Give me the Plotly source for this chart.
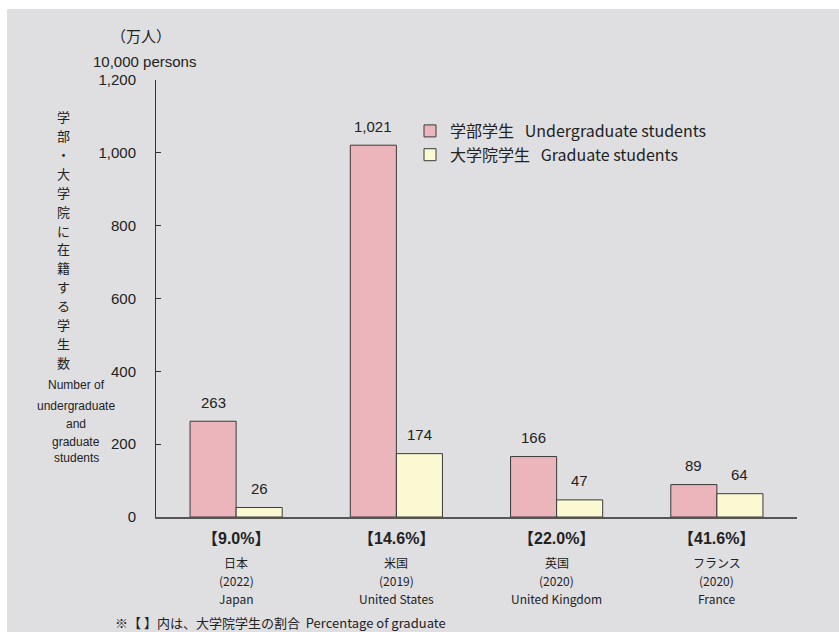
import plotly.graph_objects as go

# Students enrolled (10,000 persons)
countries_ja = ["日本", "米国", "英国", "フランス"]
countries_en = ["Japan", "United States", "United Kingdom", "France"]
years = ["(2022)", "(2019)", "(2020)", "(2020)"]
grad_share = ["【9.0%】", "【14.6%】", "【22.0%】", "【41.6%】"]
undergrad = [263, 1021, 166, 89]
graduate = [26, 174, 47, 64]
undergrad_labels = ["263", "1,021", "166", "89"]
graduate_labels = ["26", "174", "47", "64"]
y_ticks = [0, 200, 400, 600, 800, 1000, 1200]
y_tick_text = ["0", "200", "400", "600", "800", "1,000", "1,200"]

W, H = 839, 632
ML, MR, MT, MB = 156, 42, 80, 115
PW, PH = W - ML - MR, H - MT - MB
BARGAP = 0.425

FONT = "Liberation Sans, Arial, Noto Sans CJK JP, sans-serif"
JFONT = "Noto Sans CJK JP, Liberation Sans, sans-serif"
TXT = "#222222"
PINK = "#ecb5bb"
YELLOW = "#fbf9d2"
BG = "#dfdfe1"


def px(x):
    return (x - ML) / PW


def py(y):
    return (H - MB - y) / PH


def note(text, x, y, size, family=FONT, xanchor="center"):
    return dict(x=px(x), y=py(y), xref="paper", yref="paper", text=text,
                xanchor=xanchor, yanchor="middle", showarrow=False,
                font=dict(size=size, color=TXT, family=family))


fig = go.Figure()
fig.add_trace(go.Bar(
    x=countries_en, y=undergrad, name="学部学生&nbsp;&nbsp;&nbsp;Undergraduate students",
    marker=dict(color=PINK, line=dict(color="#3a3a3a", width=1)),
))
fig.add_trace(go.Bar(
    x=countries_en, y=graduate, name="大学院学生&nbsp;&nbsp;&nbsp;Graduate students",
    marker=dict(color=YELLOW, line=dict(color="#3a3a3a", width=1)),
))

ann = []
# value labels above the bars (each bar is a quarter of the occupied category width)
off = (1 - BARGAP) / 4
for i in range(len(countries_en)):
    for vals, labs, o in ((undergrad, undergrad_labels, -off), (graduate, graduate_labels, off)):
        ann.append(dict(x=i + o, y=vals[i], xref="x", yref="y", text=labs[i],
                        showarrow=False, yshift=19, xanchor="center", yanchor="middle",
                        font=dict(size=15, color=TXT, family=FONT)))

# category labels under the axis
for i in range(len(countries_en)):
    rows = [(grad_share[i], 538, 16, True), (countries_ja[i], 562, 12, False),
            (years[i], 580, 12, False), (countries_en[i], 598, 12, False)]
    for t, yy, sz, bold in rows:
        ann.append(dict(x=i, y=0, xref="x", yref="paper", xanchor="center", yanchor="middle",
                        yshift=-(yy - (H - MB)),
                        text=f"<b>{t}</b>" if bold else t, showarrow=False,
                        font=dict(size=sz, color=TXT, family=FONT if bold else JFONT)))

# unit labels
ann.append(note("（万人）", 141, 35, 15, JFONT))
ann.append(note("10,000 persons", 144, 61, 15))

# vertical Japanese axis title, one character per row
title_ja = "学部・大学院に在籍する学生数"
for k, ch in enumerate(title_ja):
    ann.append(note(ch, 63, 117 + k * 18.85, 13, JFONT))
# English axis title
for t, yy in (("Number of", 385), ("undergraduate", 406), ("and", 424),
              ("graduate", 442), ("students", 458)):
    ann.append(note(t, 76, yy, 12))

# footnote
ann.append(note("※【 】内は、大学院学生の割合  Percentage of graduate", 113, 622, 13,
                JFONT, xanchor="left"))

fig.update_layout(
    width=W, height=H,
    margin=dict(l=ML, r=MR, t=MT, b=MB, pad=0),
    paper_bgcolor="white", plot_bgcolor="white",
    barmode="group", bargap=BARGAP, bargroupgap=0,
    showlegend=True,
    legend=dict(x=px(410), y=py(114), xanchor="left", yanchor="top",
                bgcolor="rgba(0,0,0,0)", font=dict(size=16, color=TXT, family=JFONT),
                itemwidth=30, tracegroupgap=0),
    annotations=ann,
    shapes=[dict(type="rect", xref="paper", yref="paper", layer="below",
                 x0=px(7), x1=px(W + 5), y0=py(H + 5), y1=py(9),
                 fillcolor=BG, line=dict(width=0))],
    xaxis=dict(showticklabels=False, ticks="", showgrid=False, zeroline=False,
               showline=True, linecolor="#555555", linewidth=2),
    yaxis=dict(range=[0, 1200], tickvals=y_ticks, ticktext=y_tick_text,
               ticks="inside", ticklen=5, tickcolor="#333333",
               showline=True, linecolor="#333333", linewidth=1,
               showgrid=False, zeroline=False, ticklabelstandoff=16,
               tickfont=dict(size=15, color=TXT, family=FONT)),
)

fig.write_html("out.html")
